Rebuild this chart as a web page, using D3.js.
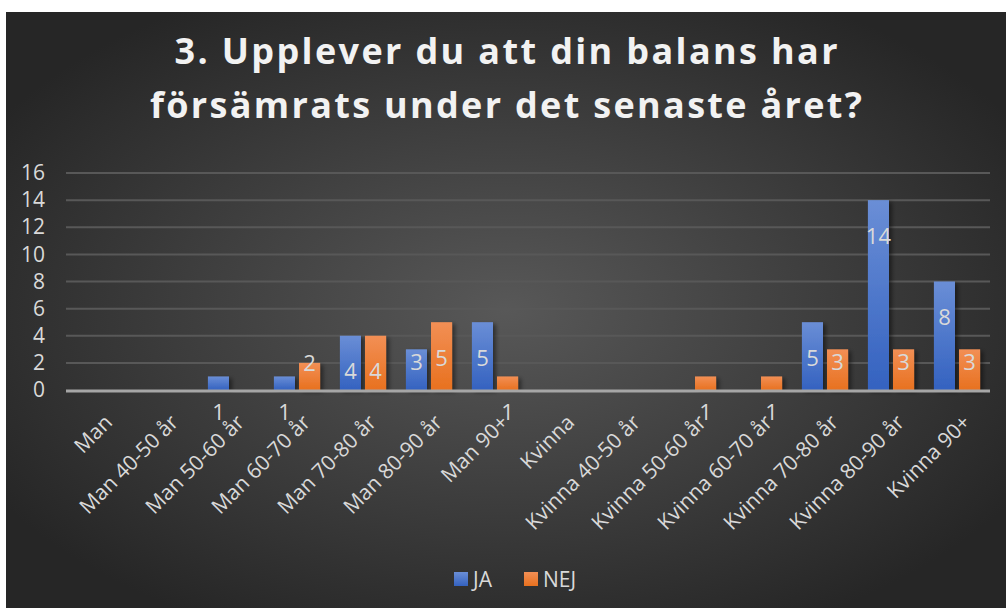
<!DOCTYPE html>
<meta charset="utf-8">
<html>
<head>
  <title>Upplever du att din balans har försämrats</title>
  <style>
    body { margin: 0; background: #fff; }
    svg { display: block; }
    .title { font-family: 'Open Sans', sans-serif; font-weight: bold; fill: #f2f2f2; }
    .tick text, .lbl, .legend text { font-family: 'Open Sans', sans-serif; fill: #d9d9d9; }
  </style>
  <script src="https://d3js.org/d3.v7.min.js"></script>
</head>
<body>
  <svg width="1006" height="608"></svg>
  <script>
    // data
    var categories = ["Man", "Man 40-50 år", "Man 50-60 år", "Man 60-70 år", "Man 70-80 år",
      "Man 80-90 år", "Man 90+", "Kvinna", "Kvinna 40-50 år", "Kvinna 50-60 år",
      "Kvinna 60-70 år", "Kvinna 70-80 år", "Kvinna 80-90 år", "Kvinna 90+"];
    var ja  = [0, 0, 1, 1, 4, 3, 5, 0, 0, 0, 0, 5, 14, 8];
    var nej = [0, 0, 0, 2, 4, 5, 1, 0, 0, 1, 1, 3, 3, 3];
    var seriesNames = ["JA", "NEJ"];
    var yTicks = [0, 2, 4, 6, 8, 10, 12, 14, 16];
    var titleLines = ["3. Upplever du att din balans har", "försämrats under det senaste året?"];

    var svg = d3.select("svg");

    // background panel with radial glow
    var defs = svg.append("defs");
    var rg = defs.append("radialGradient").attr("id", "bg")
      .attr("cx", "50%").attr("cy", "50%").attr("r", "60%");
    rg.append("stop").attr("offset", "0%").attr("stop-color", "#585858");
    rg.append("stop").attr("offset", "100%").attr("stop-color", "#262626");

    var grad = function(id, top, bottom) {
      var g = defs.append("linearGradient").attr("id", id)
        .attr("x1", 0).attr("y1", 0).attr("x2", 0).attr("y2", 1);
      g.append("stop").attr("offset", "0%").attr("stop-color", top);
      g.append("stop").attr("offset", "100%").attr("stop-color", bottom);
    };
    grad("gJA", "#6a8ed6", "#3462c0");
    grad("gNEJ", "#f28f55", "#e8711f");

    var shadow = defs.append("filter").attr("id", "sh")
      .attr("x", "-20%").attr("y", "-10%").attr("width", "160%").attr("height", "130%");
    shadow.append("feDropShadow").attr("dx", 3).attr("dy", 2).attr("stdDeviation", 2)
      .attr("flood-color", "#000").attr("flood-opacity", 0.45);

    svg.append("rect").attr("x", 6).attr("y", 12).attr("width", 1000).attr("height", 596)
      .attr("fill", "url(#bg)");

    // title
    var titleW = [663, 712];
    svg.selectAll(".title").data(titleLines).enter().append("text")
      .attr("class", "title")
      .attr("x", 506)
      .attr("y", function(d, i) { return 64 + i * 54; })
      .attr("text-anchor", "middle")
      .attr("font-size", 36)
      .attr("textLength", function(d, i) { return titleW[i]; })
      .attr("lengthAdjust", "spacing")
      .text(function(d) { return d; });

    // scales
    var x0 = d3.scaleBand().domain(categories).range([66, 990])
      .paddingInner(0.3).paddingOuter(0.15);
    var x1 = d3.scaleBand().domain(seriesNames).range([0, x0.bandwidth()]).paddingInner(0.16);
    var y = d3.scaleLinear().domain([0, 16]).range([390, 173]);
    var colors = { JA: "url(#gJA)", NEJ: "url(#gNEJ)" };

    // gridlines
    svg.append("g")
      .selectAll("line").data(yTicks.slice(1)).enter().append("line")
      .attr("x1", 66).attr("x2", 990)
      .attr("y1", function(d) { return y(d); }).attr("y2", function(d) { return y(d); })
      .attr("stroke", "#585858").attr("stroke-width", 2);

    // y axis
    var yAxis = svg.append("g")
      .attr("transform", "translate(45,0)")
      .call(d3.axisLeft(y).tickValues(yTicks).tickSize(0).tickPadding(0));
    yAxis.select(".domain").remove();
    yAxis.selectAll("text").attr("font-size", 21).attr("fill", "#d9d9d9");

    // bars
    var rows = categories.map(function(c, i) {
      return { cat: c, vals: [{ key: "JA", v: ja[i] }, { key: "NEJ", v: nej[i] }] };
    });

    var groups = svg.append("g").selectAll("g").data(rows).enter().append("g")
      .attr("transform", function(d) { return "translate(" + x0(d.cat) + ",0)"; });

    groups.selectAll("rect").data(function(d) { return d.vals.filter(function(e) { return e.v > 0; }); })
      .enter().append("rect")
      .attr("x", function(d) { return x1(d.key); })
      .attr("width", x1.bandwidth())
      .attr("y", function(d) { return y(d.v); })
      .attr("height", function(d) { return y(0) - y(d.v); })
      .attr("fill", function(d) { return colors[d.key]; })
      .attr("filter", "url(#sh)");

    // baseline
    svg.append("line").attr("x1", 66).attr("x2", 990).attr("y1", y(0) + 1).attr("y2", y(0) + 1)
      .attr("stroke", "#a6a6a6").attr("stroke-width", 3);

    // value labels (placed the way the source chart has them)
    var labelY = function(v) {
      if (v >= 4) return y(v) + 36;
      if (v === 3) return y(0) - 28;
      if (v === 2) return y(v);
      return y(0) + 22;
    };
    groups.selectAll(".lbl").data(function(d) { return d.vals.filter(function(e) { return e.v > 0; }); })
      .enter().append("text")
      .attr("class", "lbl")
      .attr("x", function(d) { return x1(d.key) + x1.bandwidth() / 2; })
      .attr("y", function(d) { return labelY(d.v); })
      .attr("dy", "0.35em")
      .attr("text-anchor", "middle")
      .attr("font-size", 22)
      .text(function(d) { return d.v; });

    // category labels
    svg.append("g").selectAll("text").data(categories).enter().append("text")
      .attr("transform", function(d) {
        return "translate(" + (x0(d) + x0.bandwidth() / 2 + 4) + ",413) rotate(-45)";
      })
      .attr("text-anchor", "end")
      .attr("dy", "0.72em")
      .attr("font-family", "'Open Sans', sans-serif")
      .attr("font-size", 21)
      .attr("fill", "#d9d9d9")
      .text(function(d) { return d; });

    // legend
    var legend = svg.append("g").attr("class", "legend");
    var legX = [454, 524];
    seriesNames.forEach(function(s, i) {
      legend.append("rect").attr("x", legX[i]).attr("y", 572).attr("width", 14).attr("height", 14)
        .attr("fill", colors[s]);
      legend.append("text").attr("x", legX[i] + 19).attr("y", 587)
        .attr("font-size", 21).text(s);
    });
  </script>
</body>
</html>
